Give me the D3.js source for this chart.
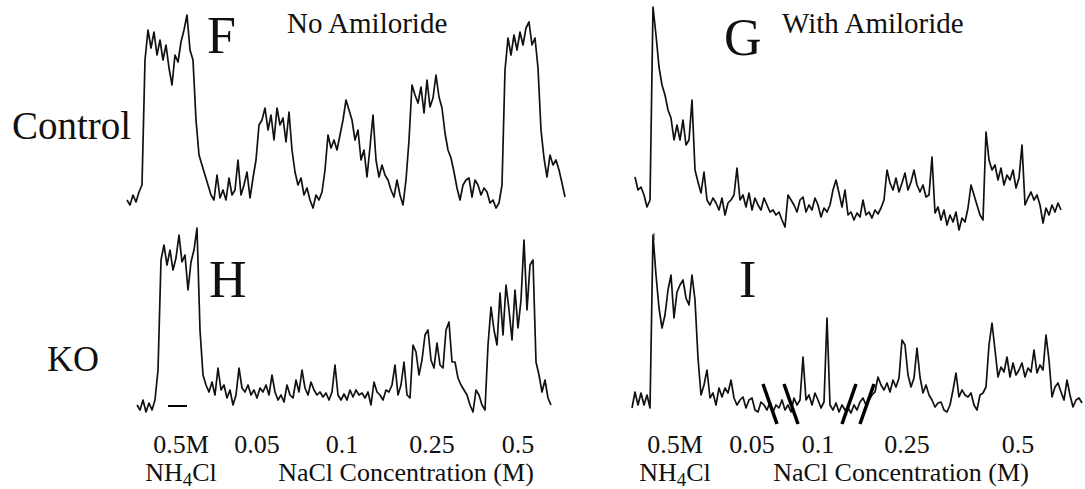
<!DOCTYPE html>
<html>
<head>
<meta charset="utf-8">
<script src="https://cdn.jsdelivr.net/npm/d3@7"></script>
<style>
  body { margin: 0; background: #fff; }
</style>
</head>
<body>
<svg id="svg_traces"></svg>
<script>
let width = 1085;
let height = 489;
let serifFace = "'Liberation Serif', 'Times New Roman', serif";

let dt = 3;

let startF = 7;
let traceF = [
    12, 7, 17, 10, 20, 27, 152, 182, 164, 180,
    157, 172, 152, 167, 144, 127, 157, 150, 170, 182,
    197, 162, 152, 92, 57, 47, 37, 27, 17, 12,
    37, 14, 22, 12, 34, 17, 22, 52, 17, 27,
    40, 14, 34, 52, 87, 92, 104, 82, 97, 72,
    104, 87, 94, 70, 100, 62, 40, 27, 34, 17,
    24, 12, 4, 17, 12, 20, 42, 77, 64, 72,
    62, 77, 92, 112, 102, 92, 72, 82, 52, 62,
    35, 65, 97, 52, 35, 47, 37, 32, 22, 15,
    32, 17, 7, 32, 72, 127, 117, 109, 125, 99,
    132, 105, 114, 137, 115, 104, 79, 62, 54, 40,
    24, 12, 27, 32, 34, 15, 32, 27, 17, 24,
    20, 9, 12, 4, 9, 27, 142, 174, 157, 177,
    162, 180, 167, 184, 190, 167, 174, 144, 82, 54,
    35, 57, 47, 52, 42, 29, 15
];

let startG = 15;
let traceG = [
    58, 45, 48, 40, 28, 35, 228, 200, 168, 150,
    140, 125, 117, 95, 110, 95, 115, 90, 95, 135,
    65, 53, 42, 63, 35, 30, 37, 32, 25, 37,
    20, 32, 35, 40, 67, 35, 40, 28, 42, 25,
    37, 30, 25, 37, 30, 23, 25, 20, 23, 15,
    8, 40, 35, 30, 23, 35, 38, 23, 30, 25,
    37, 30, 18, 27, 23, 30, 45, 55, 42, 28,
    45, 20, 23, 15, 22, 18, 35, 20, 23, 17,
    25, 21, 27, 35, 65, 52, 45, 57, 43, 52,
    62, 45, 53, 65, 50, 43, 50, 38, 40, 78,
    22, 28, 15, 25, 10, 20, 13, 23, 5, 17,
    13, 27, 50, 40, 30, 20, 15, 103, 75, 65,
    70, 55, 67, 50, 60, 55, 65, 47, 57, 90,
    30, 37, 43, 35, 40, 30, 12, 27, 20, 30,
    23, 32, 25
];

let startH = 17;
let traceH = [
    10, 5, 15, 3, 12, 5, 15, 45, 155, 170,
    150, 165, 145, 157, 180, 153, 160, 125, 153, 165,
    187, 85, 40, 30, 23, 33, 20, 47, 25, 30,
    17, 25, 10, 20, 47, 27, 23, 30, 20, 25,
    17, 27, 23, 30, 20, 40, 23, 15, 20, 13,
    30, 20, 17, 35, 23, 45, 27, 20, 33, 25,
    20, 23, 18, 22, 15, 23, 50, 20, 15, 21,
    15, 25, 18, 25, 20, 22, 17, 23, 10, 33,
    23, 20, 15, 25, 23, 30, 50, 20, 30, 53,
    20, 17, 70, 63, 40, 55, 80, 85, 55, 47,
    72, 50, 47, 85, 93, 53, 53, 37, 30, 25,
    20, 10, 3, 25, 20, 10, 5, 70, 108, 85,
    70, 122, 80, 130, 105, 75, 125, 87, 115, 175,
    105, 150, 155, 53, 40, 23, 35, 17, 10
];

let startI = 12;
let traceI = [
    12, 28, 15, 27, 15, 25, 12, 185, 145, 112,
    92, 105, 130, 145, 102, 128, 135, 140, 122, 115,
    145, 120, 62, 25, 35, 50, 22, 27, 15, 32,
    23, 32, 27, 40, 22, 15, 20, 23, 12, 20,
    22, 10, 8, 18, 15, 10, 18, 8, 15, 12,
    20, 10, 15, 8, 22, 15, 20, 63, 20, 25,
    15, 27, 20, 12, 18, 102, 15, 10, 17, 8,
    15, 10, 12, 7, 15, 10, 18, 22, 15, 20,
    25, 28, 43, 35, 30, 37, 28, 40, 33, 42,
    80, 75, 45, 33, 42, 72, 43, 27, 35, 25,
    20, 13, 17, 18, 10, 8, 15, 30, 47, 23,
    30, 25, 23, 27, 15, 10, 25, 27, 33, 75,
    97, 70, 43, 53, 48, 63, 43, 57, 45, 50,
    57, 43, 52, 48, 70, 47, 55, 50, 85, 60,
    23, 33, 37, 28, 20, 40, 25, 13, 20, 22,
    17
];

let colTitles = ["No Amiloride", "With Amiloride"];
let rowLabels = ["Control", "KO"];
let panelLetters = ["F", "G", "H", "I"];
let tickLabels = ["0.5M", "0.05", "0.1", "0.25", "0.5"];
let tickTimesLeft = [61, 137, 222, 312, 398];
let tickTimesRight = [55, 132, 198, 287, 398];
let axisTitle = "NaCl Concentration (M)";
let axisTitleTimes = [286, 281];
// time breaks in panel I (s) and slant of the break marks
let breakTimes = [150, 171, 229, 247];
let breakDirs = [1, 1, -1, -1];
// NH4Cl scale bar in panel H (s)
let barTimes = [48, 67];

let svg = d3.select("#svg_traces")
    .attr("width", width)
    .attr("height", height);

let xLeft = d3.scaleLinear().domain([0, 460]).range([120, 580]);
let xRight = d3.scaleLinear().domain([0, 465]).range([620, 1085]);

function yFor(base) {
    return d3.scaleLinear().domain([0, 200]).range([base, base - 200]);
}

let panels = [
    {trace: traceF, t0: startF, x: xLeft, y: yFor(212)},
    {trace: traceG, t0: startG, x: xRight, y: yFor(235)},
    {trace: traceH, t0: startH, x: xLeft, y: yFor(415)},
    {trace: traceI, t0: startI, x: xRight, y: yFor(420)}
];

panels.forEach(function (p) {
    let line = d3.line()
        .x(function (d, i) { return p.x(p.t0 + i * dt); })
        .y(function (d) { return p.y(d); });
    svg.append("path")
        .datum(p.trace)
        .attr("d", line)
        .attr("fill", "none")
        .attr("stroke", "#111")
        .attr("stroke-width", 1.7)
        .attr("stroke-linejoin", "round");
});

// break marks over trace I
let pI = panels[3];
svg.append("g")
    .selectAll("line")
    .data(breakTimes)
    .enter().append("line")
    .attr("x1", function (d, i) { return pI.x(d - 7 * breakDirs[i]); })
    .attr("x2", function (d, i) { return pI.x(d + 7 * breakDirs[i]); })
    .attr("y1", pI.y(36))
    .attr("y2", pI.y(-4))
    .attr("stroke", "#000")
    .attr("stroke-width", 3.5);

// scale bar under H
let pH = panels[2];
svg.append("line")
    .attr("x1", pH.x(barTimes[0]))
    .attr("x2", pH.x(barTimes[1]))
    .attr("y1", pH.y(9))
    .attr("y2", pH.y(9))
    .attr("stroke", "#000")
    .attr("stroke-width", 2);

// small onset tick under G
svg.append("line")
    .attr("x1", xRight(34)).attr("x2", xRight(34))
    .attr("y1", 233).attr("y2", 240)
    .attr("stroke", "#333").attr("stroke-width", 1);

function label(sel) {
    sel.style("font-family", serifFace).attr("fill", "#111");
}

// panel letters
let letterPos = [[207, 53], [724, 55], [209, 297], [739, 297]];
svg.selectAll("text.letter")
    .data(panelLetters)
    .enter().append("text")
    .attr("class", "letter")
    .attr("x", function (d, i) { return letterPos[i][0]; })
    .attr("y", function (d, i) { return letterPos[i][1]; })
    .attr("font-size", 52)
    .call(label)
    .text(function (d) { return d; });

// column titles
svg.selectAll("text.coltitle")
    .data(colTitles)
    .enter().append("text")
    .attr("class", "coltitle")
    .attr("x", function (d, i) { return i === 0 ? 287 : 782; })
    .attr("y", 33)
    .attr("font-size", 29)
    .call(label)
    .text(function (d) { return d; });

// row labels
svg.append("text").attr("x", 12).attr("y", 139).attr("font-size", 39).call(label).text(rowLabels[0]);
svg.append("text").attr("x", 47).attr("y", 371).attr("font-size", 36).call(label).text(rowLabels[1]);

// concentration labels under each column
[[xLeft, tickTimesLeft, axisTitleTimes[0]], [xRight, tickTimesRight, axisTitleTimes[1]]].forEach(function (c) {
    let x = c[0];
    let g = svg.append("g");
    g.selectAll("text.tick")
        .data(tickLabels)
        .enter().append("text")
        .attr("class", "tick")
        .attr("x", function (d, i) { return x(c[1][i]); })
        .attr("y", 453)
        .attr("text-anchor", "middle")
        .attr("font-size", 26)
        .call(label)
        .text(function (d) { return d; });

    let nh = g.append("text")
        .attr("x", x(c[1][0]))
        .attr("y", 481)
        .attr("text-anchor", "middle")
        .attr("font-size", 26)
        .call(label);
    nh.append("tspan").text("NH");
    nh.append("tspan").attr("font-size", 19).attr("dy", 5).text("4");
    nh.append("tspan").attr("dy", -5).text("Cl");

    g.append("text")
        .attr("x", x(c[2]))
        .attr("y", 481)
        .attr("text-anchor", "middle")
        .attr("font-size", 26)
        .call(label)
        .text(axisTitle);
});
</script>
</body>
</html>
